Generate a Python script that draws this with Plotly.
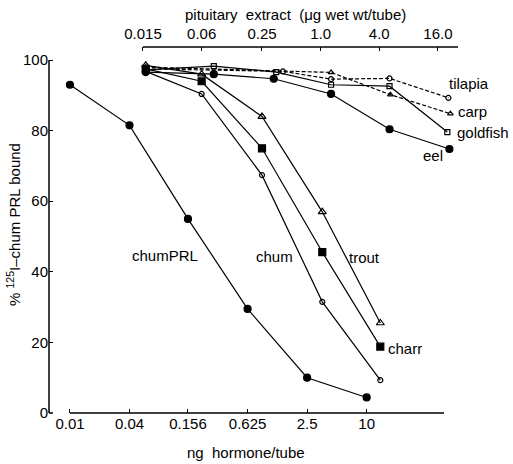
import plotly.graph_objects as go

# ---- data ----
hormone_ticks = [0.01, 0.04, 0.156, 0.625, 2.5, 10]
hormone_tick_text = ["0.01", "0.04", "0.156", "0.625", "2.5", "10"]
extract_ticks = [0.015, 0.06, 0.25, 1.0, 4.0, 16.0]
extract_tick_text = ["0.015", "0.06", "0.25", "1.0", "4.0", "16.0"]
y_ticks = [0, 20, 40, 60, 80, 100]

chumPRL_dose = [0.01, 0.04, 0.156, 0.625, 2.5, 10]
chumPRL = [93, 81.5, 55, 29.5, 10, 4.4]

salmonid_dose = [0.016, 0.06, 0.25, 1.04, 4.1]
trout = [98.5, 96, 84, 57, 25.5]
charr = [97.5, 94, 75, 45.6, 18.8]
chum = [96.8, 90.4, 67.4, 31.5, 9.3]

tilapia_dose = [0.016, 0.41, 1.28, 5.1, 20.5]
tilapia = [97.5, 96.8, 94.6, 94.8, 89.3]
carp_dose = [0.016, 1.28, 5.2, 21.5]
carp = [98, 96.5, 90.2, 84.8]
goldfish_dose = [0.016, 0.08, 0.35, 1.28, 5.1, 20]
goldfish = [97.2, 98.3, 96.6, 93, 92.6, 79.6]
eel_dose = [0.016, 0.08, 0.33, 1.28, 5.1, 21]
eel = [96.6, 96, 94.7, 90.4, 80.4, 74.8]

FONT = "Liberation Sans, Arial, Helvetica, sans-serif"
W, H = 513, 464
L, R, T, B = 49, 460, 47, 413   # plot area in pixels


def px(x):
    return (x - L) / (R - L)


def py(y):
    return (B - y) / (B - T)


fig = go.Figure()


def add(xs, ys, symbol, size, axis="x", dash="solid", lw=1.2):
    fig.add_trace(go.Scatter(
        x=xs, y=ys, mode="lines+markers", xaxis=axis, yaxis="y",
        line=dict(color="black", width=lw, dash=dash),
        marker=dict(symbol=symbol, size=size, color="black",
                    line=dict(color="black", width=1.2)),
        showlegend=False, cliponaxis=False))


add(chumPRL_dose, chumPRL, "circle", 7)
add(salmonid_dose, trout, "triangle-up-open", 7, "x2")
add(salmonid_dose, charr, "square", 7, "x2")
add(salmonid_dose, chum, "circle-open", 5, "x2")
add(tilapia_dose, tilapia, "circle-open", 5, "x2", dash="4px,2px")
add(carp_dose, carp, "triangle-up-open", 5, "x2", dash="4px,2px")
add(goldfish_dose, goldfish, "square-open", 5, "x2")
add(eel_dose, eel, "circle", 7, "x2")

axis_common = dict(showgrid=False, zeroline=False, showline=False,
                   ticks="inside", ticklen=4, tickwidth=1.3, tickcolor="black",
                   tickfont=dict(family=FONT, size=15, color="black"))

fig.update_layout(
    width=W, height=H,
    margin=dict(l=L, r=W - R, t=T, b=H - B),
    plot_bgcolor="white", paper_bgcolor="white",
    xaxis=dict(type="log", range=[-2.212, 1.944], tickvals=hormone_ticks,
               ticktext=hormone_tick_text, **axis_common),
    xaxis2=dict(type="log", range=[-2.789, 1.431], overlaying="x", side="top",
                anchor="y", tickvals=extract_ticks, ticktext=extract_tick_text,
                ticklabelstandoff=4, **axis_common),
    yaxis=dict(range=[0, 103.7], tickvals=y_ticks, **axis_common),
)

# axis lines
line = dict(color="black", width=1.5)
fig.add_shape(type="line", xref="paper", yref="y", x0=0, x1=0, y0=0, y1=100, line=line)
fig.add_shape(type="line", xref="paper", yref="paper", x0=0, x1=px(53), y0=0, y1=0, line=line)
fig.add_shape(type="line", xref="paper", yref="paper", x0=px(70), x1=px(444), y0=0, y1=0, line=line)
fig.add_shape(type="line", xref="paper", yref="paper", x0=px(143), x1=px(458), y0=1, y1=1, line=line)


def label(text, x, y, anchor="left", size=15, angle=0):
    fig.add_annotation(text=text, x=px(x), y=py(y), xref="paper", yref="paper",
                       xanchor=anchor, yanchor="middle", showarrow=False,
                       textangle=angle,
                       font=dict(family=FONT, size=size, color="black"))


label("tilapia", 447, 83)
label("carp", 456, 111.5)
label("goldfish", 455, 132)
label("eel", 421, 155)
label("chumPRL", 130, 255)
label("chum", 254, 256)
label("trout", 347, 257)
label("charr", 386, 348)

nb = "\u00a0"
label("pituitary" + nb * 2 + "extract" + nb * 2 + "(μg wet wt/tube)", 295, 15, anchor="center")
label("ng" + nb * 2 + "hormone/tube", 246, 452, anchor="center")
label("% <sup>125</sup>I–chum PRL bound", 13, 225, anchor="center", angle=-90)

fig.write_html("out.html")
